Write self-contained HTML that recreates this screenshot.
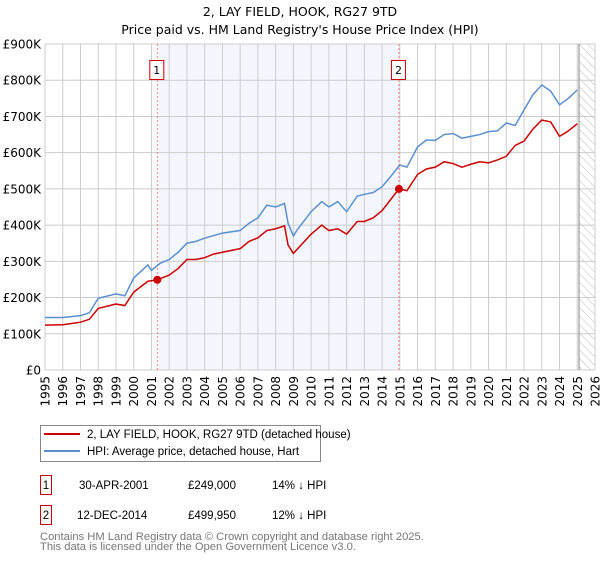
<!DOCTYPE html>
<html><head><meta charset="utf-8"><style>
body{margin:0;background:#fff;font-family:"DejaVu Sans","Liberation Sans",sans-serif;}
svg text{font-family:"DejaVu Sans","Liberation Sans",sans-serif;}
svg text.n{font-family:"Liberation Sans",sans-serif;}
</style></head><body>
<svg id="c" width="600" height="560" xmlns="http://www.w3.org/2000/svg">
<defs><pattern id="h" width="6" height="6" patternUnits="userSpaceOnUse" patternTransform="rotate(-45)"><line x1="0" y1="0" x2="0" y2="6" stroke="#bbb" stroke-width="1"/></pattern></defs>
<text x="300" y="16" text-anchor="middle" font-size="12.5">2, LAY FIELD, HOOK, RG27 9TD</text>
<text x="300" y="34" text-anchor="middle" font-size="12.5">Price paid vs. HM Land Registry's House Price Index (HPI)</text>
<g id="plot"></g>
<g>
<rect x="40.5" y="425.5" width="280" height="36" fill="#fff" stroke="#888"/>
<line x1="44" y1="434" x2="80" y2="434" stroke="#cc0000" stroke-width="2"/>
<text class="n" x="87" y="438" font-size="11.5">2, LAY FIELD, HOOK, RG27 9TD (detached house)</text>
<line x1="44" y1="451" x2="80" y2="451" stroke="#5b8fd0" stroke-width="2"/>
<text class="n" x="87" y="455" font-size="11.5">HPI: Average price, detached house, Hart</text>
</g>
<g font-size="11.5">
<rect x="40.5" y="475.5" width="11" height="19" fill="none" stroke="#cc0000"/><text class="n" x="46" y="489" text-anchor="middle">1</text>
<text class="n" x="79" y="489">30-APR-2001</text><text class="n" x="188" y="489">£249,000</text><text class="n" x="272" y="489">14% ↓ HPI</text>
<rect x="40.5" y="505.5" width="11" height="19" fill="none" stroke="#cc0000"/><text class="n" x="46" y="519" text-anchor="middle">2</text>
<text class="n" x="77" y="519">12-DEC-2014</text><text class="n" x="188" y="519">£499,950</text><text class="n" x="272" y="519">12% ↓ HPI</text>
</g>
<text class="n" x="40" y="540" font-size="11.2" fill="#777">Contains HM Land Registry data © Crown copyright and database right 2025.</text>
<text class="n" x="40" y="550" font-size="11.2" fill="#777">This data is licensed under the Open Government Licence v3.0.</text>
</svg>
<script>
const hpiYears=[1995,1996,1997,1997.5,1998,1999,1999.5,2000,2000.8,2001,2001.5,2002,2002.5,2003,2003.5,2004,2005,2006,2006.5,2007,2007.5,2008,2008.5,2008.7,2009,2009.2,2010,2010.6,2011,2011.5,2012,2012.6,2013,2013.5,2014,2014.5,2015,2015.4,2016,2016.5,2017,2017.5,2018,2018.5,2019,2019.5,2020,2020.5,2021,2021.5,2022,2022.5,2023,2023.5,2024,2024.5,2025];
const hpiValues=[145,145,150,158,198,210,205,254,290,275,295,305,325,350,355,364,378,385,405,420,455,450,460,405,370,386,437,465,450,465,437,480,485,490,506,535,566,560,616,635,634,650,653,640,645,650,658,660,682,675,718,760,787,770,732,750,773];
const priceYears=[1995,1996,1997,1997.5,1998,1999,1999.5,2000,2000.8,2001.33,2002,2002.5,2003,2003.5,2004,2004.5,2005,2006,2006.5,2007,2007.5,2008,2008.5,2008.7,2009,2010,2010.6,2011,2011.5,2012,2012.6,2013,2013.5,2014,2014.95,2015.4,2016,2016.5,2017,2017.5,2018,2018.5,2019,2019.5,2020,2020.5,2021,2021.5,2022,2022.5,2023,2023.5,2024,2024.5,2025];
const priceValues=[124,125,132,140,170,182,178,215,245,249,262,280,305,305,310,320,325,335,355,365,385,390,398,345,322,375,400,385,390,375,410,410,420,440,500,495,540,555,560,575,570,560,568,575,572,580,590,620,632,665,690,685,645,660,680];
const saleYears=[2001.33,2014.95];
const saleValues=[249,499.95];
const saleLabels=["1","2"];
const yTicks=[0,100,200,300,400,500,600,700,800,900];
const yTickLabels=["£0","£100K","£200K","£300K","£400K","£500K","£600K","£700K","£800K","£900K"];
const xTicks=[];for(let y=1995;y<=2026;y++)xTicks.push(y);
const X0=45,X1=595,Y0=370,Y1=44;
const sx=y=>X0+(y-1995)/(2026-1995)*(X1-X0);
const sy=v=>Y0-v/900*(Y0-Y1);
const NS="http://www.w3.org/2000/svg";
const g=document.getElementById('plot');
function mk(t,a,p){const e=document.createElementNS(NS,t);for(const k in a)e.setAttribute(k,a[k]);(p||g).appendChild(e);return e;}
let e;
e=mk('rect',{x:sx(saleYears[0]),y:Y1,width:sx(saleYears[1])-sx(saleYears[0]),height:Y0-Y1,fill:'#eef3fc',opacity:0.7});


e=mk('rect',{x:sx(2025.1),y:Y1,width:X1-sx(2025.1),height:Y0-Y1,fill:'url(#h)'});


xTicks.forEach(t=>{e=mk('line',{x1:sx(t),x2:sx(t),y1:Y1,y2:Y0,stroke:'#ccc'});


e=mk('text',{x:0,y:0,'font-size':12,'text-anchor':'end',transform:`translate(${sx(t)+4.5},${Y0+6}) rotate(-90)`});e.textContent=t;

});
yTicks.forEach((t,i)=>{e=mk('line',{x1:X0,x2:X1,y1:sy(t),y2:sy(t),stroke:'#ccc'});


e=mk('text',{x:X0-4,y:sy(t)+4.5,'font-size':12,'text-anchor':'end'});e.textContent=yTickLabels[i];

});
e=mk('line',{x1:sx(2025.1),x2:sx(2025.1),y1:Y1,y2:Y0,stroke:'#888'});


saleYears.forEach((s,i)=>{e=mk('line',{x1:sx(s),x2:sx(s),y1:Y1,y2:Y0,stroke:'#f08080','stroke-dasharray':'2,2'});


e=mk('rect',{x:sx(s)-7.5,y:60.5,width:14,height:19,fill:'#fff',stroke:'#cc0000'});


e=mk('text',{x:sx(s)-0.5,y:74,'font-size':11,'text-anchor':'middle'});e.textContent=saleLabels[i];

});
e=mk('path',{d:hpiYears.map((y,i)=>(i?'L':'M')+sx(y)+','+sy(hpiValues[i])).join(''),fill:'none',stroke:'#5b8fd0','stroke-width':1.5});


e=mk('path',{d:priceYears.map((y,i)=>(i?'L':'M')+sx(y)+','+sy(priceValues[i])).join(''),fill:'none',stroke:'#cc0000','stroke-width':1.5});


saleYears.forEach((s,i)=>{e=mk('circle',{cx:sx(s),cy:sy(saleValues[i]),r:4,fill:'#cc0000'});

});
</script>
</body></html>
